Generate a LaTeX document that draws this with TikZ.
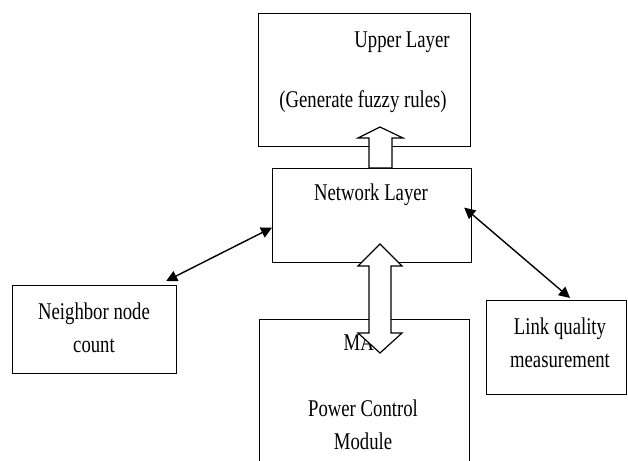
\documentclass[tikz,border=0pt]{standalone}
\usepackage{fontspec}
\setmainfont{Liberation Serif}[FakeStretch=0.78]
\usetikzlibrary{arrows.meta,calc}
\begin{document}
\begin{tikzpicture}[x=1pt,y=-1pt,
  box/.style={draw, line width=1.2pt, inner sep=0pt, anchor=north west},
  lbl/.style={font=\fontsize{24}{33}\selectfont, inner sep=0pt, align=center},
  conn/.style={line width=1.4pt, {Triangle[length=11pt,width=11pt]}-{Triangle[length=11pt,width=11pt]}},
  hollow/.style={draw, fill=white, line width=1.2pt, line join=miter}]
\clip (0,0) rectangle (628,460);
\fill[white] (0,0) rectangle (628,460);
% boxes
\node[box, minimum width=212pt, minimum height=133pt] (up) at (258,13) {};
\node[box, minimum width=199pt, minimum height=94pt] (net) at (272,168) {};
\node[box, minimum width=164pt, minimum height=88pt] (nb) at (12,285) {};
\node[box, minimum width=140pt, minimum height=94pt] (lq) at (486,300) {};
\node[box, minimum width=210pt, minimum height=200pt] (mac) at (259,319) {};
% texts
\node[lbl] (uptxt) at (402,42) {Upper Layer};
\node[lbl] (uprule) at (363,102) {(Generate fuzzy rules)};
\node[lbl] (nettxt) at (371,195) {Network Layer};
\node[lbl] (nbtxt) at (94,328) {Neighbor node\\count};
\node[lbl] (lqtxt) at (560,343) {Link quality\\measurement};
\node[lbl] (mactxt) at (365,343) {MAC};
\node[lbl] (pctxt) at (363,425) {Power Control\\Module};
% connectors
\coordinate (nbend) at ($(nb.north east)+(-11,-4)$);
\coordinate (netw) at ($(net.west)+(0,12)$);
\coordinate (nete) at ($(net.east)+(-8,-8)$);
\coordinate (lqend) at ($(lq.north west)+(84,-2)$);
\draw[conn] (nbend) -- (netw);
\draw[conn] (nete) -- (lqend);
% hollow arrows
\draw[hollow] (369,168) -- (369,138) -- (358,138) -- (380,127) -- (403,138) -- (392,138) -- (392,168) -- cycle;
\draw[hollow] (380,244) -- (402,266) -- (391,266) -- (391,333) -- (402,333) -- (380,353) -- (358,333) -- (369,333) -- (369,266) -- (358,266) -- cycle;
\end{tikzpicture}
\end{document}
